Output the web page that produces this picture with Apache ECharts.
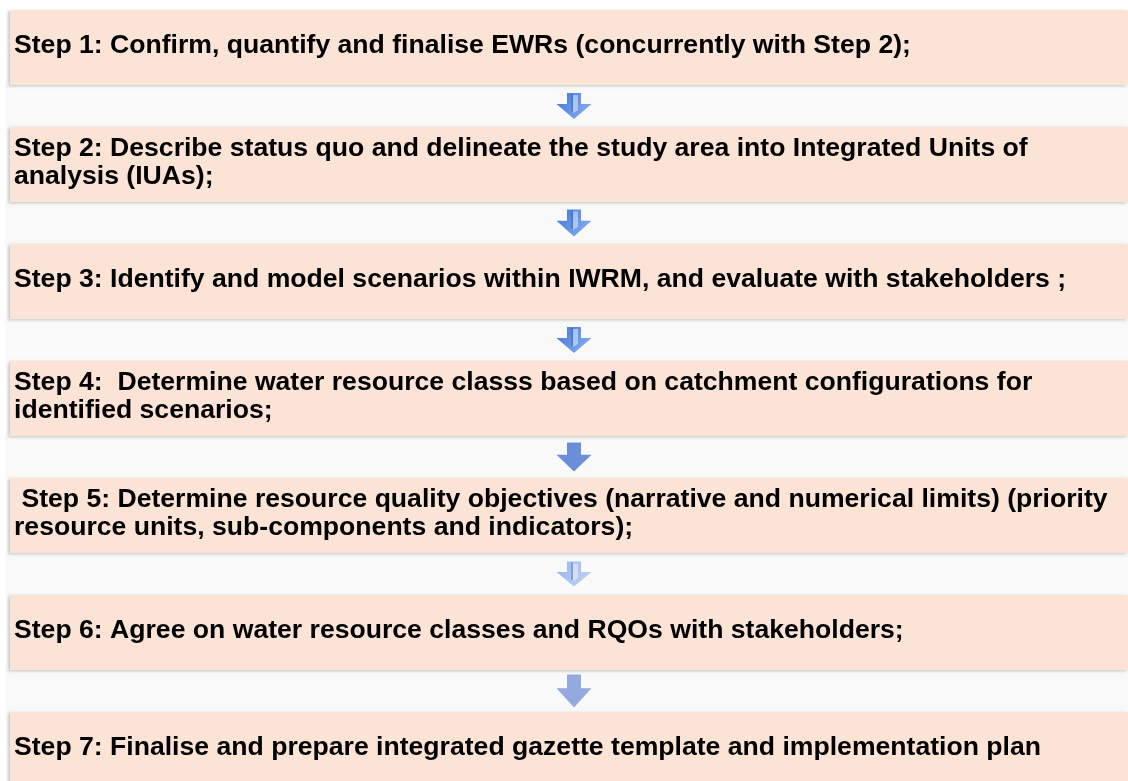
<!DOCTYPE html>
<html>
<head>
<meta charset="utf-8">
<script src="https://cdn.jsdelivr.net/npm/echarts@6/dist/echarts.min.js"></script>
<style>
    html, body { margin: 0; padding: 0; background: #ffffff; }
    #main { width: 1128px; height: 781px; }
</style>
</head>
<body>
<div id="main"></div>
<script>
    // step texts, line breaks as in the original figure
    var stepLabels = [
        'Step 1: Confirm, quantify and finalise EWRs (concurrently with Step 2);',
        'Step 2: Describe status quo and delineate the study area into Integrated Units of\nanalysis (IUAs);',
        'Step 3: Identify and model scenarios within IWRM, and evaluate with stakeholders ;',
        'Step 4:  Determine water resource classs based on catchment configurations for\nidentified scenarios;',
        ' Step 5: Determine resource quality objectives (narrative and numerical limits) (priority\nresource units, sub-components and indicators);',
        'Step 6: Agree on water resource classes and RQOs with stakeholders;',
        'Step 7: Finalise and prepare integrated gazette template and implementation plan'
    ];
    // one arrow after each step except the last
    var arrowAfter = [0, 1, 2, 3, 4, 5];

    // look of each arrow (the original mixes 3d and flat ones)
    var arrowLook = [
        { top: '#3f76d8', bottom: '#8fb3f0', shine: true, h: 26 },
        { top: '#3f76d8', bottom: '#8fb3f0', shine: true, h: 27 },
        { top: '#3f76d8', bottom: '#8fb3f0', shine: true, h: 26 },
        { top: '#6a8ed8', bottom: '#6a8ed8', shine: false, h: 29 },
        { top: '#98b4ea', bottom: '#c2d4f4', shine: true, h: 25 },
        { top: '#93a9e0', bottom: '#93a9e0', shine: false, h: 33 }
    ];

    var BOX_H = 0.641;     // box height in step units
    var BOX_LEFT = 10;     // px on the x axis (0..1128)
    var ARROW_X = 574;

    var chart = echarts.init(document.getElementById('main'), null, { renderer: 'canvas' });

    function renderStep(params, api) {
        var i = api.value(0);
        var children = [];
        var p0 = api.coord([BOX_LEFT, i]);
        var p1 = api.coord([1128, i + BOX_H]);

        // light band in the gap under the box
        if (i < stepLabels.length - 1) {
            var g0 = api.coord([5, i + BOX_H]);
            var g1 = api.coord([1128, i + 1]);
            children.push({
                type: 'rect',
                shape: { x: g0[0], y: g0[1], width: g1[0] - g0[0], height: g1[1] - g0[1] },
                style: { fill: '#f9f9f9' }
            });
        }

        // the peach box
        children.push({
            type: 'rect',
            shape: { x: p0[0], y: p0[1], width: p1[0] - p0[0], height: p1[1] - p0[1] },
            style: {
                fill: '#fbe4d6',
                shadowColor: 'rgba(0,0,0,0.22)',
                shadowBlur: 3,
                shadowOffsetX: -2,
                shadowOffsetY: 1
            }
        });

        var mid = api.coord([14, i + BOX_H / 2]);
        children.push({
            type: 'text',
            style: {
                text: stepLabels[i],
                x: mid[0],
                y: mid[1] - 2,
                align: 'left',
                verticalAlign: 'middle',
                fill: '#000000',
                fontFamily: '"Liberation Sans", Arial, sans-serif',
                fontWeight: 'bold',
                fontSize: 26.6,
                lineHeight: 28
            }
        });

        // arrow in the gap
        var k = arrowAfter.indexOf(i);
        if (k >= 0) {
            var look = arrowLook[k];
            var c = api.coord([ARROW_X, i + BOX_H + (1 - BOX_H) / 2]);
            var h = look.h;
            var top = c[1] - h / 2, bot = c[1] + h / 2;
            var neck = top + h * 0.42;
            var hw = 17.5, sw = 7;
            children.push({
                type: 'polygon',
                shape: {
                    points: [
                        [c[0] - sw, top], [c[0] + sw, top], [c[0] + sw, neck],
                        [c[0] + hw, neck], [c[0], bot], [c[0] - hw, neck], [c[0] - sw, neck]
                    ]
                },
                style: {
                    fill: new echarts.graphic.LinearGradient(0, 0, 1, 1, [
                        { offset: 0, color: look.top },
                        { offset: 1, color: look.bottom }
                    ])
                }
            });
            if (look.shine) {
                children.push({
                    type: 'polygon',
                    shape: {
                        points: [
                            [c[0] - 1, top + 2], [c[0] + 4, top + 2],
                            [c[0] + 4, neck + 6], [c[0] - 1, neck + 9]
                        ]
                    },
                    style: { fill: 'rgba(255,255,255,0.45)' }
                });
                children.push({
                    type: 'line',
                    shape: { x1: c[0] - 2, y1: top + 1, x2: c[0] - 2, y2: neck + 8 },
                    style: { stroke: 'rgba(40,80,170,0.6)', lineWidth: 1 }
                });
            }
        }

        return { type: 'group', children: children };
    }

    var option = {
        animation: false,
        grid: { left: 0, right: 0, top: 0, bottom: 0 },
        xAxis: { type: 'value', min: 0, max: 1128, show: false },
        yAxis: { type: 'value', inverse: true, min: -10 / 117, max: 771 / 117, show: false },
        series: [{
            type: 'custom',
            clip: true,
            renderItem: renderStep,
            data: stepLabels.map(function (s, i) { return [i]; })
        }]
    };
    chart.setOption(option);
</script>
</body>
</html>
